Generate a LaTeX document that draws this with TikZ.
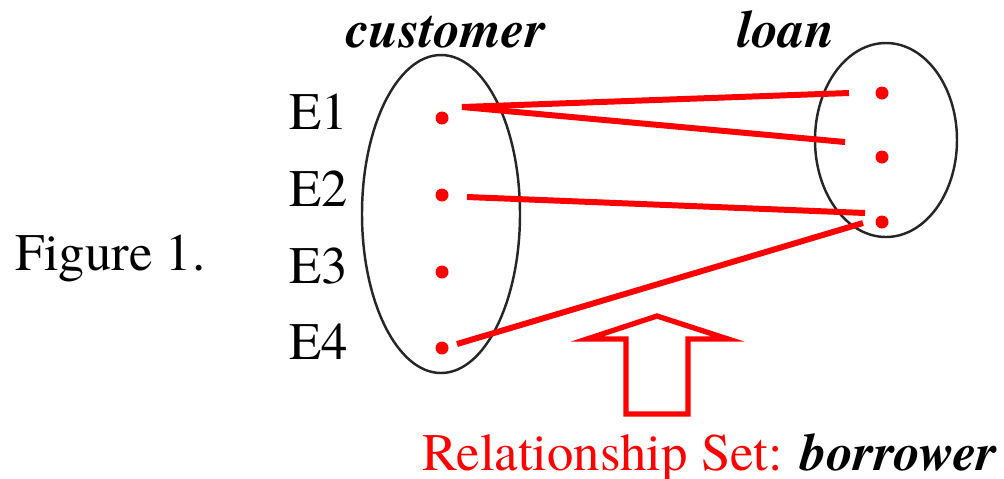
\documentclass[tikz,border=0pt]{standalone}
\usepackage{fontspec}
\setmainfont{texgyretermes}[Extension=.otf, UprightFont=*-regular, BoldFont=*-bold, ItalicFont=*-italic, BoldItalicFont=*-bolditalic]
\usepackage{xcolor}
\usepackage{tikz}

\tikzset{
  dot/.style={circle, fill=red, inner sep=0pt, minimum size=0.13cm},
  link/.style={red, line width=1.7pt},
  set/.style={black!85, line width=0.7pt},
  lbl/.style={font=\fontsize{15}{18}\selectfont, inner sep=0pt}
}

\begin{document}
\begin{tikzpicture}
        \useasboundingbox (0,0) rectangle (10.04,4.78);

        % entity sets
        \draw[set] (4.41,2.64) ellipse[x radius=0.79, y radius=1.59];
        \draw[set] (8.86,3.38) ellipse[x radius=0.71, y radius=0.97];

        \node[lbl, anchor=base] (cust) at (4.46,4.31) {\textbf{\textit{customer}}};
        \node[lbl, anchor=base] (loan) at (7.86,4.31) {\textbf{\textit{loan}}};
        \node[lbl, anchor=base west] (fig) at (0.15,2.08) {Figure 1.};

        \foreach \i/\y in {1/3.60, 2/2.83, 3/2.06, 4/1.30} {
            \node[dot] (e\i) at (4.42,\y) {};
            \node[lbl, anchor=base east] (n\i) at (3.49,\y-0.11) {E\i};
        }
        \foreach \i/\y in {1/3.85, 2/3.21, 3/2.56} {
            \node[dot] (l\i) at (8.82,\y) {};
        }

        % relationship borrower
        \draw[link] ([shift={(0.20,0.11)}]e1.center) -- ([shift={(-0.33,0)}]l1.center);
        \draw[link] ([shift={(0.20,0.11)}]e1.center) -- ([shift={(-0.37,0.15)}]l2.center);
        \draw[link] ([shift={(0.25,-0.02)}]e2.center) -- ([shift={(-0.17,0.09)}]l3.center);
        \draw[link] ([shift={(0.15,0.04)}]e4.center) -- ([shift={(-0.19,-0.01)}]l3.center);

        \draw[red, line width=1.5pt, line join=miter]
            (6.57,1.62) -- (7.28,1.39) -- (6.88,1.39) -- (6.88,0.64)
            -- (6.26,0.64) -- (6.26,1.39) -- (5.87,1.39) -- cycle;

        \node[lbl, anchor=base west, text=red] (rel) at (4.22,0.08)
            {Relationship Set: \textcolor{black}{\textbf{\textit{borrower}}}};
    \end{tikzpicture}
\end{document}
